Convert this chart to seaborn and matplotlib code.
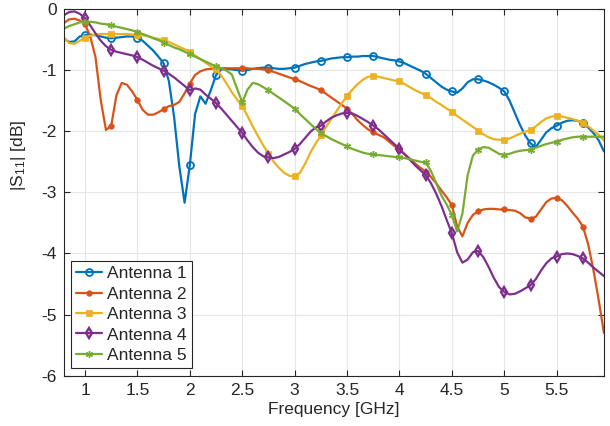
import numpy as np
import pandas as pd
import matplotlib
matplotlib.use("Agg")
import matplotlib.pyplot as plt
import seaborn as sns

# frequency grid (GHz), 0.05 GHz steps from 0.8 to 5.95
freq = np.round(np.arange(0.80, 5.951, 0.05), 2)

ant1 = [-0.49, -0.54, -0.53, -0.45, -0.43, -0.42, -0.43, -0.45, -0.47, -0.48,
        -0.47, -0.46, -0.45, -0.45, -0.47, -0.52, -0.60, -0.68, -0.78, -0.89,
        -1.18, -1.77, -2.58, -3.17, -2.55, -1.72, -1.43, -1.55, -1.33, -1.08,
        -0.99, -0.98, -0.99, -1.00, -1.01, -1.00, -0.98, -0.97, -0.96, -0.96,
        -0.97, -0.98, -0.98, -0.97, -0.96, -0.93, -0.90, -0.88, -0.86, -0.85,
        -0.83, -0.81, -0.80, -0.79, -0.79, -0.78, -0.78, -0.77, -0.77, -0.77,
        -0.79, -0.81, -0.83, -0.84, -0.86, -0.89, -0.93, -0.97, -1.01, -1.06,
        -1.13, -1.20, -1.27, -1.32, -1.35, -1.37, -1.30, -1.20, -1.15, -1.15,
        -1.17, -1.20, -1.24, -1.29, -1.35, -1.50, -1.70, -1.90, -2.07, -2.20,
        -2.26, -2.14, -2.02, -1.95, -1.91, -1.86, -1.83, -1.82, -1.83, -1.87,
        -1.94, -2.03, -2.15, -2.33]

ant2 = [-0.23, -0.17, -0.16, -0.19, -0.25, -0.45, -0.79, -1.49, -1.98, -1.91,
        -1.41, -1.21, -1.24, -1.35, -1.49, -1.65, -1.73, -1.73, -1.69, -1.64,
        -1.59, -1.57, -1.52, -1.38, -1.22, -1.08, -1.02, -0.99, -0.98, -0.97,
        -0.97, -0.97, -0.97, -0.97, -0.97, -0.97, -0.98, -0.98, -0.99, -1.00,
        -1.03, -1.06, -1.09, -1.12, -1.15, -1.18, -1.22, -1.26, -1.29, -1.33,
        -1.39, -1.45, -1.51, -1.57, -1.63, -1.72, -1.82, -1.90, -1.97, -2.02,
        -2.06, -2.10, -2.17, -2.24, -2.31, -2.38, -2.45, -2.53, -2.60, -2.66,
        -2.75, -2.85, -2.97, -3.08, -3.21, -3.56, -3.72, -3.50, -3.37, -3.31,
        -3.28, -3.27, -3.27, -3.28, -3.28, -3.29, -3.30, -3.34, -3.41, -3.43,
        -3.40, -3.28, -3.16, -3.10, -3.09, -3.13, -3.22, -3.33, -3.43, -3.56,
        -3.85, -4.27, -4.76, -5.30]

ant3 = [-0.47, -0.56, -0.57, -0.52, -0.47, -0.44, -0.42, -0.41, -0.41, -0.41,
        -0.41, -0.41, -0.41, -0.42, -0.42, -0.43, -0.45, -0.47, -0.49, -0.51,
        -0.54, -0.58, -0.62, -0.66, -0.70, -0.76, -0.82, -0.88, -0.94, -0.99,
        -1.09, -1.22, -1.36, -1.48, -1.59, -1.75, -1.92, -2.08, -2.23, -2.37,
        -2.50, -2.60, -2.68, -2.73, -2.74, -2.68, -2.53, -2.35, -2.20, -2.07,
        -1.93, -1.80, -1.67, -1.54, -1.42, -1.32, -1.23, -1.16, -1.11, -1.10,
        -1.11, -1.13, -1.15, -1.17, -1.18, -1.23, -1.28, -1.33, -1.37, -1.41,
        -1.46, -1.52, -1.57, -1.63, -1.68, -1.75, -1.81, -1.87, -1.93, -1.99,
        -2.05, -2.10, -2.13, -2.14, -2.14, -2.12, -2.08, -2.04, -2.01, -1.98,
        -1.92, -1.85, -1.79, -1.76, -1.75, -1.76, -1.78, -1.80, -1.83, -1.87,
        -1.92, -1.99, -2.06, -2.15]

ant4 = [-0.10, -0.05, -0.04, -0.08, -0.15, -0.27, -0.40, -0.52, -0.61, -0.67,
        -0.70, -0.72, -0.74, -0.76, -0.79, -0.83, -0.88, -0.93, -0.97, -1.01,
        -1.06, -1.12, -1.19, -1.26, -1.33, -1.30, -1.32, -1.40, -1.47, -1.54,
        -1.63, -1.73, -1.83, -1.93, -2.03, -2.15, -2.26, -2.35, -2.41, -2.43,
        -2.44, -2.42, -2.38, -2.34, -2.29, -2.21, -2.11, -2.01, -1.94, -1.91,
        -1.84, -1.78, -1.74, -1.71, -1.70, -1.71, -1.75, -1.80, -1.85, -1.91,
        -1.97, -2.05, -2.13, -2.21, -2.29, -2.38, -2.47, -2.56, -2.64, -2.72,
        -2.85, -3.02, -3.22, -3.45, -3.67, -3.98, -4.15, -4.10, -3.98, -3.96,
        -4.06, -4.22, -4.40, -4.55, -4.63, -4.67, -4.66, -4.62, -4.57, -4.52,
        -4.42, -4.28, -4.16, -4.08, -4.05, -4.01, -4.00, -4.01, -4.04, -4.08,
        -4.15, -4.23, -4.30, -4.37]

ant5 = [-0.32, -0.28, -0.25, -0.22, -0.21, -0.21, -0.22, -0.24, -0.25, -0.27,
        -0.29, -0.31, -0.33, -0.35, -0.38, -0.41, -0.44, -0.48, -0.51, -0.55,
        -0.59, -0.63, -0.66, -0.70, -0.74, -0.78, -0.82, -0.86, -0.90, -0.94,
        -0.97, -1.01, -1.07, -1.30, -1.53, -1.32, -1.21, -1.23, -1.28, -1.33,
        -1.39, -1.45, -1.51, -1.57, -1.63, -1.72, -1.80, -1.88, -1.96, -2.03,
        -2.08, -2.13, -2.17, -2.21, -2.25, -2.29, -2.32, -2.35, -2.37, -2.38,
        -2.39, -2.40, -2.41, -2.42, -2.43, -2.44, -2.46, -2.48, -2.50, -2.51,
        -2.65, -2.85, -3.05, -3.20, -3.37, -3.64, -3.35, -2.72, -2.40, -2.30,
        -2.26, -2.27, -2.32, -2.37, -2.39, -2.37, -2.34, -2.32, -2.31, -2.30,
        -2.27, -2.24, -2.21, -2.19, -2.17, -2.14, -2.12, -2.10, -2.09, -2.09,
        -2.09, -2.09, -2.09, -2.09]

labels = ["Antenna 1", "Antenna 2", "Antenna 3", "Antenna 4", "Antenna 5"]
colors = ["#0072BD", "#D95319", "#EDB120", "#7E2F8E", "#77AC30"]

sns.set_theme(style="whitegrid")
plt.rcParams["font.family"] = ["Liberation Sans", "DejaVu Sans"]
plt.rcParams["mathtext.fontset"] = "custom"
plt.rcParams["mathtext.rm"] = "Liberation Sans"
plt.rcParams["mathtext.it"] = "Liberation Sans"

fig = plt.figure(figsize=(6.1, 4.26), dpi=100)
ax = fig.add_axes([0.105, 0.118, 0.885, 0.861])

# marker styles (MATLAB-like)
styles = [
    dict(marker="o", markersize=5, markerfacecolor="none", markeredgewidth=1.3),
    dict(marker="o", markersize=4, markeredgewidth=0.5),
    dict(marker="s", markersize=5, markeredgewidth=0.5),
    dict(marker="d", markersize=5.5, markerfacecolor="none", markeredgewidth=1.7),
    dict(marker=(6, 2, 0), markersize=5, markeredgewidth=1.0),
]

for y, lab, c, st in zip([ant1, ant2, ant3, ant4, ant5], labels, colors, styles):
    sns.lineplot(x=freq, y=y, ax=ax, color=c, label=lab, linewidth=1.6,
                 sort=False, estimator=None, markevery=(4, 5),
                 markeredgecolor=c, **st)

ax.set_xlim(0.8, 5.95)
ax.set_ylim(-6, 0)
ax.set_xticks([1, 1.5, 2, 2.5, 3, 3.5, 4, 4.5, 5, 5.5])
ax.set_xticklabels(["1", "1.5", "2", "2.5", "3", "3.5", "4", "4.5", "5", "5.5"])
ax.set_yticks([-6, -5, -4, -3, -2, -1, 0])
ax.set_yticklabels(["-6", "-5", "-4", "-3", "-2", "-1", "0"])
ax.set_xlabel("Frequency [GHz]", fontsize=12.5, color="#262626", labelpad=3)
ax.set_ylabel("|S$_{11}$| [dB]", fontsize=12.5, color="#262626")
ax.yaxis.set_label_coords(-0.066, 0.60)

ax.grid(True, color="#e6e6e6", linewidth=0.8)
ax.set_facecolor("white")
for s in ax.spines.values():
    s.set_visible(True)
    s.set_color("#262626")
    s.set_linewidth(0.8)
ax.tick_params(direction="in", length=4, width=0.8, colors="#262626",
               labelsize=12.5, top=True, right=True, bottom=True, left=True,
               pad=5)

leg = ax.legend(loc="lower left", bbox_to_anchor=(0.0124, 0.0207), fontsize=12.5,
                frameon=True, fancybox=False, handlelength=1.5,
                borderpad=0.3, labelspacing=0.3, handletextpad=0.3,
                borderaxespad=0)
leg.get_frame().set_edgecolor("#262626")
leg.get_frame().set_linewidth(0.8)
leg.get_frame().set_alpha(1)

fig.savefig("out.png", dpi=100)
